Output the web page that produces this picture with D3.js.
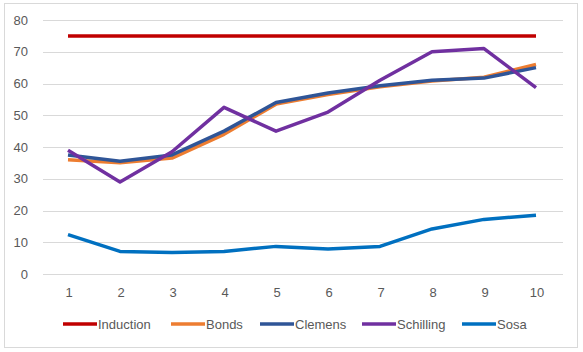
<!DOCTYPE html>
<html>
<head>
<meta charset="utf-8">
<script src="https://cdn.jsdelivr.net/npm/d3@7"></script>
<style>
  body { margin: 0; background: #fff; }
  text { font-family: "Liberation Sans", "DejaVu Sans", sans-serif; fill: #595959; }
</style>
</head>
<body>
<div id="chart"></div>
<script>
// data
const categories = ["1", "2", "3", "4", "5", "6", "7", "8", "9", "10"];
const induction = [75, 75, 75, 75, 75, 75, 75, 75, 75, 75];
const bonds = [36, 35, 36.5, 44, 53.5, 56.5, 59, 60.8, 62, 66];
const clemens = [37.5, 35.5, 37.5, 45, 54, 57, 59.3, 61, 61.7, 65];
const schilling = [39, 29, 38.5, 52.5, 45, 51, 61, 70, 71, 58.7];
const sosa = [12.4, 7.1, 6.8, 7.1, 8.7, 7.9, 8.7, 14.2, 17.2, 18.5];
const yTicks = [0, 10, 20, 30, 40, 50, 60, 70, 80];

const series = [
    { name: "Induction", values: induction, color: "#C00000" },
    { name: "Bonds", values: bonds, color: "#ED7D31" },
    { name: "Clemens", values: clemens, color: "#2F5597" },
    { name: "Schilling", values: schilling, color: "#7030A0" },
    { name: "Sosa", values: sosa, color: "#0070C0" }
];

const W = 583, H = 352;
const margin = { top: 20, right: 20, bottom: 78, left: 43 };
const width = W - margin.left - margin.right;
const height = H - margin.top - margin.bottom;

const svg = d3.select("#chart").append("svg")
    .attr("width", W)
    .attr("height", H);

// chart frame
svg.append("rect")
    .attr("x", 4.5).attr("y", 3.5)
    .attr("width", 573).attr("height", 344)
    .attr("fill", "#fff")
    .attr("stroke", "#D9D9D9");

const g = svg.append("g")
    .attr("transform", `translate(${margin.left}, ${margin.top})`);

const x = d3.scaleBand()
    .domain(categories)
    .range([0, width])
    .padding(0);

const y = d3.scaleLinear()
    .domain([0, 80])
    .range([height, 0]);

// gridlines
g.append("g")
    .selectAll("line")
    .data(yTicks)
    .join("line")
    .attr("x1", 0)
    .attr("x2", width)
    .attr("y1", d => Math.round(y(d)) + 0.5)
    .attr("y2", d => Math.round(y(d)) + 0.5)
    .attr("stroke", "#D9D9D9");

// y axis labels
const yAxis = g.append("g")
    .call(d3.axisLeft(y).tickValues(yTicks).tickSize(0).tickPadding(15));
yAxis.select(".domain").remove();
yAxis.selectAll("text").style("font-size", "13px").attr("fill", "#595959");

// x axis labels
const xAxis = g.append("g")
    .attr("transform", `translate(0, ${height})`)
    .call(d3.axisBottom(x).tickSize(0).tickPadding(14));
xAxis.select(".domain").remove();
xAxis.selectAll("text").style("font-size", "13px").attr("fill", "#595959");

// lines
const line = d3.line()
    .x((d, i) => x(categories[i]) + x.bandwidth() / 2 - 1)
    .y(d => y(d));

g.selectAll(".series")
    .data(series)
    .join("path")
    .attr("class", "series")
    .attr("fill", "none")
    .attr("stroke", d => d.color)
    .attr("stroke-width", 3.5)
    .attr("stroke-linejoin", "round")
    .attr("d", d => line(d.values));

// legend
const legendX = [63, 171, 260, 362, 462];
const legend = svg.append("g")
    .attr("transform", "translate(0, 324)");

const items = legend.selectAll("g")
    .data(series)
    .join("g")
    .attr("transform", (d, i) => `translate(${legendX[i]}, 0)`);

items.append("line")
    .attr("x1", 0).attr("x2", 34)
    .attr("y1", 0).attr("y2", 0)
    .attr("stroke", d => d.color)
    .attr("stroke-width", 3.5);

items.append("text")
    .attr("x", 35)
    .attr("y", 0)
    .attr("dy", "0.35em")
    .style("font-size", "13px")
    .text(d => d.name);
</script>
</body>
</html>
